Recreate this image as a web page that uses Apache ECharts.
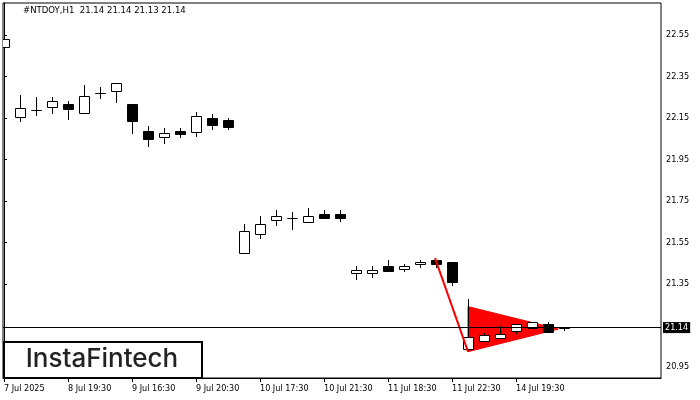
<!DOCTYPE html>
<html>
<head>
<meta charset="utf-8">
<script src="https://cdn.jsdelivr.net/npm/echarts@6/dist/echarts.min.js"></script>
<style>
html,body{margin:0;padding:0;background:#fff;}
#chart{width:700px;height:400px;}
</style>
</head>
<body>
<div id="chart"></div>
<script>
// ---- data ----
const symbolName = "#NTDOY,H1";
const opens  = [22.49,22.157,22.189,22.204,22.217,22.176,22.269,22.280,22.216,22.087,22.057,22.089,22.084,22.150,22.140,
                21.498,21.593,21.657,21.667,21.647,21.687,21.687,
                21.404,21.404,21.435,21.424,21.445,21.466,21.456,
                21.035,21.076,21.092,21.124,21.136,21.156,21.14];
const highs  = [22.57,22.261,22.25,22.253,22.232,22.309,22.298,22.317,22.216,22.111,22.102,22.102,22.179,22.169,22.150,
                21.639,21.678,21.707,21.695,21.715,21.705,21.705,
                21.437,21.437,21.466,21.446,21.466,21.466,21.456,
                21.278,21.112,21.146,21.156,21.165,21.168,21.14];
const lows   = [22.445,22.137,22.164,22.176,22.147,22.174,22.248,22.229,22.076,22.017,22.028,22.057,22.065,22.098,22.098,
                21.498,21.573,21.636,21.617,21.647,21.667,21.655,
                21.373,21.385,21.414,21.414,21.433,21.433,21.345,
                21.03,21.076,21.092,21.112,21.136,21.119,21.13];
const closes = [22.53,22.197,22.189,22.232,22.195,22.257,22.269,22.317,22.137,22.047,22.076,22.073,22.160,22.118,22.108,
                21.604,21.639,21.676,21.667,21.676,21.667,21.667,
                21.417,21.417,21.414,21.435,21.456,21.445,21.361,
                21.093,21.103,21.111,21.156,21.165,21.119,21.14];
const xTickIndex  = [0,4,8,12,16,20,24,28,32];
const xTickLabels = ["7 Jul 2025","8 Jul 19:30","9 Jul 16:30","9 Jul 20:30","10 Jul 17:30","10 Jul 21:30","11 Jul 18:30","11 Jul 22:30","14 Jul 19:30"];
const yTickValues = [20.95,21.35,21.55,21.75,21.95,22.15,22.35,22.55];
const yTickLabels = ["20.95","21.35","21.55","21.75","21.95","22.15","22.35","22.55"];
const currentPrice = 21.14;
const flagPole = [[26.94,21.475],[29,21.024]];
const pennant  = [[29,21.241],[29,21.024],[34.65,21.133]];
// ---------------

const FONT = "'DejaVu Sans Condensed','Liberation Sans',sans-serif";
const candleRows = opens.map((o,i)=>[i,o,closes[i],lows[i],highs[i]]);
const last = opens.length-1;
const fmt = v => v.toFixed(2);
const titleText = symbolName + "  " + fmt(opens[last]) + " " + fmt(highs[last]) + " " + fmt(lows[last]) + " " + fmt(closes[last]);

function renderCandle(params, api){
  const i = api.value(0), o = api.value(1), c = api.value(2), l = api.value(3), h = api.value(4);
  const pO = api.coord([i,o]), pC = api.coord([i,c]), pL = api.coord([i,l]), pH = api.coord([i,h]);
  const x = Math.round(pO[0]);
  const top = Math.round(Math.min(pO[1],pC[1]));
  const bot = Math.round(Math.max(pO[1],pC[1]));
  const bull = c >= o;
  return {
    type:'group',
    children:[
      {type:'line', shape:{x1:x+0.5,y1:Math.round(pH[1]),x2:x+0.5,y2:Math.round(pL[1])+1},
       style:{stroke:'#000',lineWidth:1}},
      {type:'rect', shape:{x:x-4.5,y:top+0.5,width:10,height:bot-top},
       style:{fill: bull?'#fff':'#000', stroke:'#000', lineWidth:1}}
    ]
  };
}

function renderPennant(params, api){
  if (params.dataIndex !== 0) return null;
  const pts = pennant.map(p=>api.coord(p));
  return {type:'polygon', shape:{points:pts}, style:{fill:'#ff0000', stroke:'#ff0000', lineWidth:1}};
}

const chart = echarts.init(document.getElementById('chart'), null, {renderer:'canvas'});
chart.setOption({
  animation:false,
  backgroundColor:'#fff',
  title:{
    text:titleText, left:18, top:1,
    textStyle:{fontFamily:FONT, fontSize:9.5, fontWeight:'normal', color:'#000'}
  },
  grid:{left:3, top:3, right:39, bottom:22, show:true, borderColor:'#000', borderWidth:1, backgroundColor:'#fff'},
  xAxis:{
    type:'value', min:-0.0625, max:41.0625,
    axisLine:{show:true, lineStyle:{color:'#000', width:1}},
    axisTick:{show:true, customValues:xTickIndex, length:4, lineStyle:{color:'#000'}},
    axisLabel:{show:true, customValues:xTickIndex, align:'left', margin:6,
      fontFamily:FONT, fontSize:9, color:'#000',
      formatter:v=>{const k=xTickIndex.indexOf(Math.round(v)); return k>=0?xTickLabels[k]:'';}},
    splitLine:{show:false}
  },
  yAxis:{
    type:'value', position:'right', min:20.897, max:22.7042,
    axisLine:{show:true, lineStyle:{color:'#000', width:1}},
    axisTick:{show:true, customValues:yTickValues, length:3, lineStyle:{color:'#000'}},
    axisLabel:{show:true, customValues:yTickValues, margin:5,
      fontFamily:FONT, fontSize:9, color:'#000',
      formatter:v=>{let k=-1; yTickValues.forEach((t,j)=>{if(Math.abs(t-v)<1e-6)k=j;}); return k>=0?yTickLabels[k]:'';}},
    splitLine:{show:false}
  },
  series:[
    {
      type:'custom', name:'pennant', renderItem:renderPennant, data:pennant, z:1, silent:true,
      encode:{x:0,y:1},
      markLine:{
        silent:true, symbol:['none','none'], animation:false,
        lineStyle:{color:'#000', width:1, type:'solid'},
        label:{show:true, position:'end', formatter:fmt(currentPrice), distance:2,
          backgroundColor:'#000', color:'#fff', padding:[1,2,1,2], fontFamily:FONT, fontSize:9},
        emphasis:{disabled:true},
        data:[{yAxis:currentPrice}],
        z:10
      }
    },
    {
      type:'custom', name:'candles', renderItem:renderCandle, data:candleRows, z:3, clip:true, silent:true,
      encode:{x:0,y:[1,2,3,4]}
    },
    {
      type:'line', name:'pole', data:flagPole, z:4, symbol:'none', silent:true,
      lineStyle:{color:'#ff0000', width:2}
    }
  ],
  graphic:[
    {type:'rect', shape:{x:4,y:342,width:198,height:36},
     style:{fill:'#fff', stroke:'#000', lineWidth:2}, z:100},
    {type:'text', x:102, y:359, z:101,
     style:{text:'InstaFintech', fill:'#222', font:"500 26px Inter, 'Noto Sans', sans-serif",
       textAlign:'center', textVerticalAlign:'middle'}}
  ]
});
</script>
</body>
</html>
